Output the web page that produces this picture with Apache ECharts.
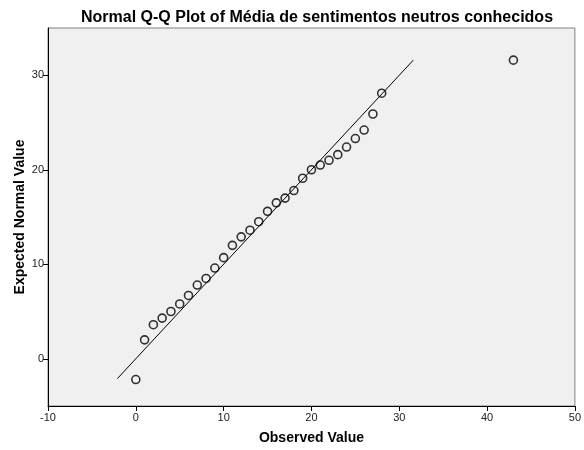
<!DOCTYPE html>
<html>
<head>
<meta charset="utf-8">
<script src="https://cdn.jsdelivr.net/npm/echarts@6/dist/echarts.min.js"></script>
<style>html,body{margin:0;padding:0;background:#fff}#c{width:584px;height:450px}</style>
</head>
<body>
<div id="c"></div>
<script>
const titleText = "Normal Q-Q Plot of Média de sentimentos neutros conhecidos";
const xName = "Observed Value";
const yName = "Expected Normal Value";
const observed = [0,1,2,3,4,5,6,7,8,9,10,11,12,13,14,15,16,17,18,19,20,21,22,23,24,25,26,27,28,43];
const expected = [-2.2,2.0,3.6,4.3,5.0,5.8,6.7,7.8,8.5,9.6,10.7,12.0,12.9,13.6,14.5,15.6,16.5,17.0,17.8,19.1,20.0,20.5,21.0,21.6,22.4,23.3,24.2,25.9,28.1,31.6];
const refLineX = [-2.1, 31.6];
const refLineY = [-2.1, 31.6];
const xTicks = [-10,0,10,20,30,40,50];
const yTicks = [0,10,20,30];

const chart = echarts.init(document.getElementById('c'), null, {renderer:'canvas'});
const FONT = '"Liberation Sans", Arial, sans-serif';
chart.setOption({
  animation: false,
  backgroundColor: '#ffffff',
  title: {
    text: titleText, left: 312, top: 5, textAlign: 'center',
    textStyle: {fontFamily: FONT, fontSize: 16, fontWeight: 'bold', color: '#000'}
  },
  grid: {
    left: 48, right: 8, top: 28, bottom: 42, show: true,
    backgroundColor: '#f0f0f0', borderColor: '#808080', borderWidth: 1
  },
  xAxis: {
    type: 'value', min: -10, max: 50, interval: 10,
    name: xName, nameLocation: 'middle', nameGap: 25, nameMoveOverlap: false,
    nameTextStyle: {fontFamily: FONT, fontSize: 14, fontWeight: 'bold', color: '#000'},
    axisLine: {show: true, onZero: false, lineStyle: {color: '#000', width: 1}},
    axisTick: {show: true, inside: false, length: 5, lineStyle: {color: '#000'}, customValues: xTicks},
    axisLabel: {fontFamily: FONT, fontSize: 11, color: '#222', margin: 6, customValues: xTicks},
    splitLine: {show: false}
  },
  yAxis: {
    type: 'value', min: -5, max: 35,
    name: yName, nameLocation: 'middle', nameGap: 21, nameMoveOverlap: false,
    nameTextStyle: {fontFamily: FONT, fontSize: 14, fontWeight: 'bold', color: '#000'},
    axisLine: {show: true, onZero: false, lineStyle: {color: '#000', width: 1}},
    axisTick: {show: true, inside: false, length: 5, lineStyle: {color: '#000'}, customValues: yTicks},
    axisLabel: {fontFamily: FONT, fontSize: 11, color: '#222', margin: 4, customValues: yTicks},
    splitLine: {show: false}
  },
  series: [
    {
      type: 'line', data: refLineX.map((x, i) => [x, refLineY[i]]),
      symbol: 'none', lineStyle: {color: '#000', width: 1}, silent: true, z: 2
    },
    {
      type: 'scatter', data: observed.map((x, i) => [x, expected[i]]),
      symbol: 'circle', symbolSize: 8,
      itemStyle: {color: 'rgba(0,0,0,0)', borderColor: '#000', borderWidth: 1.6}, z: 3
    }
  ]
});
</script>
</body>
</html>
